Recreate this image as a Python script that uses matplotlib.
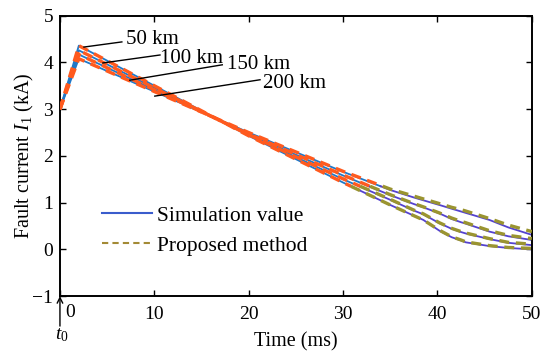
import numpy as np
import matplotlib
matplotlib.use("Agg")
import matplotlib.pyplot as plt

plt.rcParams['font.family'] = ['Liberation Serif', 'DejaVu Serif']
plt.rcParams['mathtext.fontset'] = 'custom'
plt.rcParams['mathtext.rm'] = 'Liberation Serif'
plt.rcParams['mathtext.it'] = 'Liberation Serif:italic'

# ---- data ----
t_ms = [0, 2, 20, 30, 35, 37.5, 38.5, 40.2, 41.5, 42.5, 43, 45.5, 47.5, 50]

sim_200km = [3.0, 4.08, 2.50, 1.66, 1.27, 1.11, 1.05, 0.95, 0.87, 0.81, 0.78, 0.63, 0.47, 0.31]
sim_150km = [3.0, 4.17, 2.47, 1.58, 1.16, 0.97, 0.90, 0.77, 0.65, 0.58, 0.55, 0.38, 0.28, 0.20]
sim_100km = [3.0, 4.26, 2.45, 1.50, 1.06, 0.83, 0.75, 0.56, 0.44, 0.37, 0.34, 0.22, 0.14, 0.09]
sim_50km = [3.0, 4.36, 2.43, 1.43, 0.95, 0.72, 0.63, 0.40, 0.26, 0.19, 0.15, 0.07, 0.03, 0.00]

prop_200km = [3.0, 4.08, 2.50, 1.67, 1.29, 1.14, 1.08, 0.98, 0.90, 0.85, 0.82, 0.66, 0.52, 0.38]
prop_150km = [3.0, 4.17, 2.47, 1.59, 1.17, 0.98, 0.91, 0.78, 0.67, 0.60, 0.57, 0.40, 0.30, 0.23]
prop_100km = [3.0, 4.26, 2.45, 1.51, 1.07, 0.84, 0.76, 0.57, 0.45, 0.38, 0.35, 0.23, 0.15, 0.11]
prop_50km = [3.0, 4.36, 2.43, 1.43, 0.95, 0.72, 0.63, 0.41, 0.27, 0.20, 0.16, 0.08, 0.04, 0.02]

labels_km = ['50 km', '100 km', '150 km', '200 km']
x_ticks = [0, 10, 20, 30, 40, 50]
y_ticks = [-1, 0, 1, 2, 3, 4, 5]

sims = [sim_200km, sim_150km, sim_100km, sim_50km]
props = [prop_200km, prop_150km, prop_100km, prop_50km]

# ---- styling ----
c_sim_hi, c_sim_lo = '#1f78c8', '#5442cf'
c_prop_hi, c_prop_lo = '#ff5a1e', '#9a9430'
y_split = 1.35
FS = 14.5

fig = plt.figure(figsize=(5.5, 3.58), dpi=100)
ax = fig.add_axes([0.109, 0.173, 0.858, 0.783])

t = np.array(t_ms)


def split_plot(y, c_hi, c_lo, **kw):
    y = np.array(y)
    i = int(np.argmax(y < y_split))
    t0, t1, y0, y1 = t[i - 1], t[i], y[i - 1], y[i]
    ts = t0 + (y_split - y0) * (t1 - t0) / (y1 - y0)
    th = np.append(t[:i], ts)
    yh = np.append(y[:i], y_split)
    tl = np.insert(t[i:], 0, ts)
    yl = np.insert(y[i:], 0, y_split)
    ax.plot(th, yh, color=c_hi, **kw)
    ax.plot(tl, yl, color=c_lo, **kw)


for s in sims:
    split_plot(s, c_sim_hi, c_sim_lo, lw=1.3, zorder=2)
for p in props:
    split_plot(p, c_prop_hi, c_prop_lo, lw=2.4, ls=(0, (3.0, 2.0)), zorder=3)

# legend proxies
h1, = ax.plot([], [], color='#3a5ccc', lw=1.5, label='Simulation value')
h2, = ax.plot([], [], color='#a38a35', lw=1.5, ls=(0, (3, 2)), label='Proposed method')
ax.legend(handles=[h1, h2], loc='upper left', bbox_to_anchor=(0.09, 0.322),
          frameon=False, fontsize=15.5, handlelength=2.3, handletextpad=0.25,
          labelspacing=0.45, borderaxespad=0, borderpad=0)

# annotations
ann = [
    ((2.54, 4.33), (6.56, 4.44), (7.0, 4.49)),
    ((4.55, 3.99), (10.6, 4.16), (10.6, 4.08)),
    ((7.4, 3.62), (17.2, 3.95), (17.7, 3.96)),
    ((10.05, 3.28), (21.2, 3.63), (21.5, 3.56)),
]
for lab, (pt, le, tx) in zip(labels_km, ann):
    ax.plot([pt[0], le[0]], [pt[1], le[1]], color='black', lw=1.0, zorder=5)
    ax.text(tx[0], tx[1], lab, fontsize=15, ha='left', va='center', zorder=6)

ax.set_xlim(0, 50)
ax.set_ylim(-1, 5)
ax.set_xticks(x_ticks)
ax.set_xticklabels([''] + [str(v) for v in x_ticks[1:]])
ax.set_yticks(y_ticks)
ax.set_yticklabels(['\u22121'] + [str(v) for v in y_ticks[1:]])
ax.tick_params(direction='in', top=True, right=True, labelsize=14, length=4,
               width=1.0)
ax.tick_params(axis='x', pad=7)
ax.tick_params(axis='y', pad=5)
for sp in ax.spines.values():
    sp.set_linewidth(1.4)

ax.set_xlabel('Time (ms)', fontsize=FS, labelpad=7)
ax.set_ylabel(r'Fault current $I_1$ (kA)', fontsize=FS, labelpad=-3)

# t0 marker
ax.annotate('', xy=(0, -1), xytext=(0, -1 - 30 / 46.7),
            arrowprops=dict(arrowstyle='->', lw=1.0, color='black',
                            shrinkA=0, shrinkB=0),
            annotation_clip=False)
ax.text(1.05, -1.18, '0', fontsize=14, ha='center', va='top', clip_on=False)
ax.text(0.25, -1 - 30 / 46.7, r'$t_0$', fontsize=14, ha='center', va='top',
        clip_on=False)

fig.savefig('out.png', dpi=100)
